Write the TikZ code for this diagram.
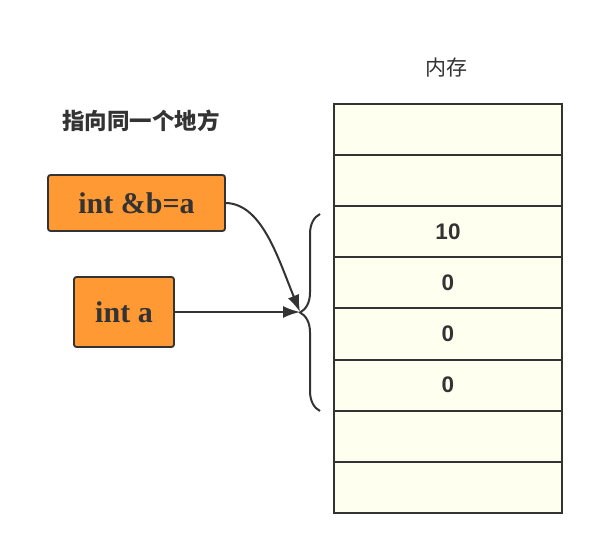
\documentclass[tikz,border=0pt]{standalone}
\usepackage{fontspec}
\setmainfont{Liberation Serif}
\setsansfont{Liberation Sans}
\newfontfamily\cjk{Noto Sans CJK SC}
\usetikzlibrary{arrows.meta,decorations.pathreplacing}
\definecolor{linegray}{HTML}{333333}
\definecolor{boxorange}{HTML}{FF9933}
\definecolor{cellyellow}{HTML}{FFFFEF}
\tikzset{
  varbox/.style={draw=linegray,line width=1.8pt,fill=boxorange,rounded corners=2.5pt,
    font=\fontsize{30}{30}\selectfont\bfseries,text=linegray},
  cell/.style={draw=linegray,line width=2pt,fill=cellyellow,minimum width=228pt,
    minimum height=51.1pt,inner sep=0pt,font=\fontsize{22.5}{22.5}\selectfont\sffamily\bfseries,text=linegray},
  ptr/.style={draw=linegray,line width=2pt,-{Latex[length=17pt,width=12pt]}}
}
\begin{document}
\begin{tikzpicture}[x=1pt,y=-1pt]
\useasboundingbox (0,0) rectangle (594,545);
% memory
\node[font=\cjk\fontsize{21}{21}\selectfont,text=linegray] (memtitle) at (446,68) {内存};
\foreach \i/\v in {1/,2/,3/10,4/0,5/0,6/0,7/,8/}
  \node[cell] (m\i) at (448,{129.6+51.1*(\i-1)}) {\v};
% variables
\node[font=\cjk\fontsize{22.5}{22.5}\selectfont\bfseries,text=linegray] (title) at (141,121) {指向同一个地方};
\node[varbox,minimum width=177pt,minimum height=56pt] (b) at (136.5,203) {int \&b=a};
\node[varbox,minimum width=100pt,minimum height=70pt] (a) at (124,312) {int a};
% brace
\coordinate (brbot) at (320,411);
\coordinate (brtop) at (320,214);
\coordinate (brtip) at (300,312);
\draw[linegray,line width=2pt,decorate,decoration={brace,amplitude=20pt}] (brbot) -- (brtop);
\draw[ptr] (a.east) -- (brtip);
\draw[ptr] (b.east) .. controls (262,204) and (278,258) .. (brtip);
\end{tikzpicture}
\end{document}
